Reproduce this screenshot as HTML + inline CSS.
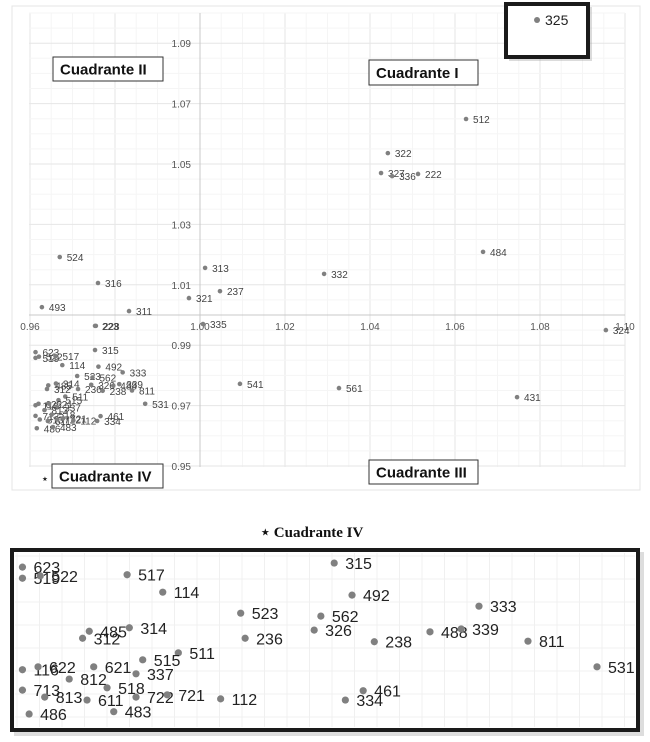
<!DOCTYPE html>
<html><head><meta charset="utf-8">
<style>
body{margin:0;background:#fff;width:650px;height:742px;overflow:hidden;font-family:"Liberation Sans",sans-serif;}
svg{position:absolute;left:0;top:0;}
</style></head>
<body>
<svg id="chart" width="650" height="742">
  <rect x="12" y="6" width="628" height="484" fill="#fff" stroke="#e4e4e4"/>
  <g id="grid"></g>
  <g id="axes"></g>
  <g id="pts"></g>
  <g id="boxes"></g>
  <g id="inset"></g>
</svg>
<script>
const codes = ["325","512","322","327","336","222","484","313","332","237","321","524","316","493","311","335","324","541","561","431","223","228",
"623","519","522","517","114","523","485","314","312","236","511","515","116","622","621","337","812","713","518","813","611","722","721","112","486","483",
"315","492","562","326","333","488","339","238","811","531","461","334"];
const xVals = [1.0793,1.0626,1.0442,1.0426,1.0452,1.0513,1.0666,1.0012,1.0292,1.0047,0.9974,0.9670,0.9760,0.9628,0.9833,1.0007,1.0955,1.0094,1.0327,1.0746,0.9753,0.9755,
0.9613,0.9613,0.9621,0.9660,0.9676,0.9711,0.9643,0.9661,0.9640,0.9713,0.9683,0.9667,0.9613,0.9620,0.9645,0.9664,0.9634,0.9613,0.9651,0.9623,0.9642,0.9664,0.9678,0.9702,0.9616,0.9654,
0.9753,0.9761,0.9747,0.9744,0.9818,0.9796,0.9810,0.9771,0.9840,0.9871,0.9766,0.9758];
const yVals = [1.0977,1.0649,1.0536,1.0470,1.0460,1.0467,1.0209,1.0156,1.0136,1.0079,1.0056,1.0192,1.0106,1.0026,1.0013,0.9970,0.9950,0.9772,0.9758,0.9728,0.9964,0.9964,
0.9877,0.9858,0.9862,0.9864,0.9834,0.9798,0.9767,0.9773,0.9755,0.9755,0.9730,0.9718,0.9701,0.9706,0.9706,0.9694,0.9685,0.9666,0.9670,0.9654,0.9649,0.9654,0.9658,0.9651,0.9625,0.9629,
0.9884,0.9829,0.9793,0.9769,0.9810,0.9766,0.9771,0.9749,0.9750,0.9706,0.9665,0.9649];
const xTicks = [0.96,0.98,1.00,1.02,1.04,1.06,1.08,1.10];
const xTickLabels = ["0.96","","1.00","1.02","1.04","1.06","1.08","1.10"];
const yTicks = [1.09,1.07,1.05,1.03,1.01,0.99,0.97,0.95];
const yTickLabels = ["1.09","1.07","1.05","1.03","1.01","0.99","0.97","0.95"];
const insetCodes = ["623","519","522","517","114","523","485","314","312","236","511","515","116","622","621","337","812","713","518","813","611","722","721","112","486","483","315","492","562","326","333","488","339","238","811","531","461","334"];

const NS="http://www.w3.org/2000/svg";
function mk(tag,attrs,parent){const e=document.createElementNS(NS,tag);for(const k in attrs)e.setAttribute(k,attrs[k]);parent.appendChild(e);return e;}
const X = v => 200 + (v-1)*4250;
const Y = v => 315 - (v-1)*3020;
const XI = v => 334 + (v-0.97529)*22270;
const YI = v => 563 + (0.98841-v)*5829;

const grid=document.getElementById('grid');
for(let v=0.96; v<=1.1001; v+=0.005){
  const major=Math.abs(Math.round(v*100)%2)===0 && Math.abs(v*100-Math.round(v*100))<1e-6;
  const l=mk('line',{x1:X(v),x2:X(v),y1:13,y2:467,stroke:major?'#e6e6e6':'#f5f5f5','stroke-width':1},grid);
  
  
}
for(let v=0.95; v<=1.1001; v+=0.005){
  if(Y(v)<13) continue;
  const k=Math.round((v-0.95)*1000);
  const major=k%20===0;
  const l=mk('line',{x1:29,x2:625,y1:Y(v),y2:Y(v),stroke:major?'#e6e6e6':'#f5f5f5','stroke-width':1},grid);
  
  
}
const axes=document.getElementById('axes');
const ax=mk('line',{x1:29,x2:625,y1:Y(1),y2:Y(1),stroke:'#c8c8c8'},axes);


const ay=mk('line',{x1:X(1),x2:X(1),y1:13,y2:467,stroke:'#c8c8c8'},axes);


xTicks.forEach((t,i)=>{
  const e=mk('text',{x:X(t),y:Y(1)+15,'text-anchor':'middle','font-size':10,fill:'#555'},axes);
  e.textContent=xTickLabels[i];
  
  
});
yTicks.forEach((t,i)=>{
  const e=mk('text',{x:X(1)-9,y:Y(t)+4,'text-anchor':'end','font-size':10,fill:'#555'},axes);
  e.textContent=yTickLabels[i];
  
  
});
const boxes=document.getElementById('boxes');
mk('rect',{x:509,y:7,width:83,height:54,fill:'#999',opacity:0.35},boxes);
const hb=mk('rect',{x:506,y:4,width:82,height:53,fill:'#fff',stroke:'#1a1a1a','stroke-width':4},boxes);



const pts=document.getElementById('pts');
codes.forEach((c,i)=>{
  const big = c==="325";
  const d=mk('circle',{cx:X(xVals[i]),cy:Y(yVals[i]),r:big?3:2.3,fill:'#808080'},big?boxes:pts);
  
  
  const t=mk('text',{x:X(xVals[i])+(big?8:7),y:Y(yVals[i])+(big?5:4),'font-size':big?14:10,fill:big?'#222':'#444'},big?boxes:pts);
  t.textContent=c;
  
  
});

function qbox(x,y,w,h,label,name){
  const r=mk('rect',{x:x,y:y,width:w,height:h,fill:'#fff',stroke:'#333','stroke-width':1},boxes);
  
  
  const t=mk('text',{x:x+7,y:y+h/2+5.5,'font-size':15,'font-weight':'bold',fill:'#111'},boxes);
  t.textContent=label;
  
  
}
qbox(53,57,110,24,'Cuadrante II','quadrant-2');
qbox(369,60,109,25,'Cuadrante I','quadrant-1');
qbox(369,460,109,24,'Cuadrante III','quadrant-3');
qbox(52,464,111,24,'Cuadrante IV','quadrant-4');
const st=mk('text',{x:45,y:483,'font-size':13,'text-anchor':'middle',fill:'#222'},boxes);
st.textContent='⋆';



const inset=document.getElementById('inset');
const ttl=mk('text',{x:312,y:537,'text-anchor':'middle','font-size':15,'font-weight':'bold','font-family':'"Liberation Serif",serif',fill:'#111'},inset);
ttl.textContent='⋆ Cuadrante IV';


mk('rect',{x:14,y:552,width:630,height:184,fill:'#aaa',opacity:0.4},inset);
const ib=mk('rect',{x:12,y:550,width:626,height:180,fill:'#fff',stroke:'#1a1a1a','stroke-width':4},inset);


for(let gx=17; gx<636; gx+=22.5){
  const l=mk('line',{x1:gx,x2:gx,y1:553,y2:727,stroke:'#f0f0f0'},inset);
  
  
}
for(let gy=556; gy<727; gy+=23){
  const l=mk('line',{x1:15,x2:635,y1:gy,y2:gy,stroke:'#f0f0f0'},inset);
  
  
}
insetCodes.forEach(c=>{
  const i=codes.indexOf(c);
  const d=mk('circle',{cx:XI(xVals[i]),cy:YI(yVals[i]),r:3.6,fill:'#808080'},inset);
  
  
  const t=mk('text',{x:XI(xVals[i])+11,y:YI(yVals[i])+6,'font-size':16,fill:'#222'},inset);
  t.textContent=c;
  
  
});
</script>
</body></html>
